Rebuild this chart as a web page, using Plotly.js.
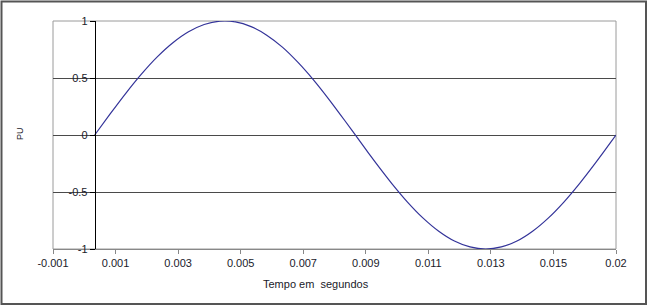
<!DOCTYPE html>
<html>
<head>
<meta charset="utf-8">
<script src="https://cdn.plot.ly/plotly-3.0.1.min.js"></script>
<style>
html,body{margin:0;padding:0;background:#fff;}
#chart{width:650px;height:308px;}
</style>
</head>
<body>
<div id="chart"></div>
<script>
// Time samples (s) and per-unit values
var tempo = [0, 0.0005, 0.001, 0.0015, 0.002, 0.0025, 0.003, 0.0035, 0.004, 0.0045,
  0.005, 0.0055, 0.006, 0.0065, 0.007, 0.0075, 0.008, 0.0085, 0.009, 0.0095,
  0.01, 0.0105, 0.011, 0.0115, 0.012, 0.0125, 0.013, 0.0135, 0.014, 0.0145,
  0.015, 0.0155, 0.016, 0.0165, 0.016667];
var pu = [0, 0.187, 0.368, 0.536, 0.685, 0.809, 0.905, 0.969, 0.998, 0.992,
  0.951, 0.876, 0.771, 0.637, 0.482, 0.309, 0.125, -0.063, -0.249, -0.426,
  -0.588, -0.729, -0.844, -0.930, -0.982, -1.000, -0.982, -0.930, -0.844, -0.729,
  -0.588, -0.426, -0.249, -0.063, 0];

// X axis ticks (positions in seconds) and their printed labels
var xTickVals = [-0.0013333, 0.0006667, 0.0026667, 0.0046667, 0.0066667, 0.0086667,
  0.0106667, 0.0126667, 0.0146667, 0.0166667];
var xTickText = ['-0.001', '0.001', '0.003', '0.005', '0.007', '0.009',
  '0.011', '0.013', '0.015', '0.02'];
var yTickVals = [-1, -0.5, 0, 0.5, 1];
var yTickText = ['-1', '-0.5', '0', '0.5', '1'];
var xTitle = 'Tempo em  segundos';
var yTitle = 'PU';

// layout geometry (pixels)
var W = 650, H = 308;
var L = 53, R = 616, T = 21, B = 249;
function px(x) { return (x - L) / (R - L); }
function py(y) { return (B - y) / (B - T); }

var xRange = [xTickVals[0], xTickVals[xTickVals.length - 1]];
var yAxisPos = (0 - xRange[0]) / (xRange[1] - xRange[0]);

var font = {family: 'Liberation Sans, Arial, sans-serif', size: 11, color: '#1a1a2a'};

var trace = {
  x: tempo, y: pu, type: 'scatter', mode: 'lines',
  line: {color: '#333399', width: 1.2, shape: 'spline', smoothing: 0.6},
  hoverinfo: 'skip'
};

var layout = {
  width: W, height: H,
  margin: {l: L, r: W - R, t: T, b: H - B, pad: 0},
  paper_bgcolor: '#fff', plot_bgcolor: '#fff',
  showlegend: false,
  font: font,
  xaxis: {
    range: xRange, tickmode: 'array', tickvals: xTickVals, ticktext: xTickText,
    showgrid: false, zeroline: false,
    showline: true, linecolor: '#888', linewidth: 1,
    ticks: 'outside', ticklen: 4, tickcolor: '#888', tickwidth: 1,
    tickfont: font, fixedrange: true
  },
  yaxis: {
    range: [-1, 1], tickmode: 'array', tickvals: yTickVals, ticktext: yTickText,
    anchor: 'free', position: yAxisPos,
    showgrid: true, gridcolor: '#4a4a4a', gridwidth: 1,
    zeroline: false,
    showline: true, linecolor: '#000', linewidth: 1,
    ticks: 'outside', ticklen: 5, tickcolor: '#000', tickwidth: 1,
    tickfont: font, fixedrange: true
  },
  shapes: [
    {type: 'rect', xref: 'paper', yref: 'paper', x0: 0, x1: 1, y0: 0, y1: 1,
     line: {color: '#9a9a9a', width: 1}, layer: 'between'},
    {type: 'rect', xref: 'paper', yref: 'paper', x0: px(1.5), x1: px(646), y0: py(304), y1: py(1.5),
     line: {color: '#555', width: 2}, layer: 'above'}
  ],
  annotations: [
    {text: xTitle, xref: 'paper', yref: 'paper', x: px(316), y: py(284),
     xanchor: 'center', yanchor: 'middle', showarrow: false,
     font: {family: 'Liberation Sans, Arial, sans-serif', size: 11, color: '#1a1a2a'}},
    {text: yTitle, xref: 'paper', yref: 'paper', x: px(20), y: py(134),
     xanchor: 'center', yanchor: 'middle', showarrow: false, textangle: -90,
     font: {family: 'Liberation Sans, Arial, sans-serif', size: 9, color: '#1a1a2a'}}
  ]
};

Plotly.newPlot('chart', [trace], layout, {staticPlot: true, displayModeBar: false});
</script>
</body>
</html>
